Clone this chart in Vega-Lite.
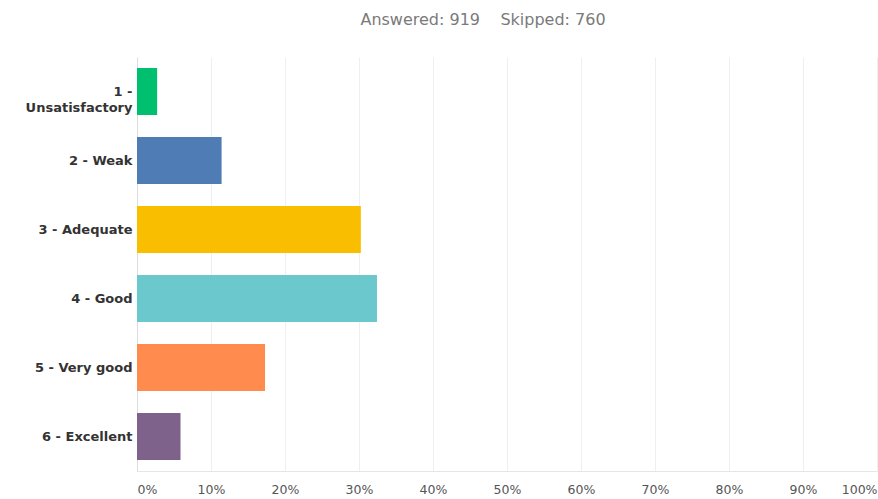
{
  "$schema": "https://vega.github.io/schema/vega-lite/v6.json",
  "autosize": {"type": "none"},
  "width": 740,
  "height": 414,
  "padding": {"left": 137, "top": 57, "right": 1, "bottom": 28},
  "background": "white",
  "title": {
    "text": "Answered: 919\u00a0\u00a0\u00a0\u00a0Skipped: 760",
    "font": "DejaVu Sans",
    "fontSize": 16,
    "fontWeight": "normal",
    "color": "#7a7a7a",
    "anchor": "middle",
    "dx": -24,
    "offset": 29
  },
  "data": {
    "values": [
      {"choice": "1 - Unsatisfactory", "pct": 0.0272, "color": "#00BF6F"},
      {"choice": "2 - Weak", "pct": 0.1143, "color": "#507CB6"},
      {"choice": "3 - Adequate", "pct": 0.3025, "color": "#F9BE00"},
      {"choice": "4 - Good", "pct": 0.3243, "color": "#6BC8CD"},
      {"choice": "5 - Very good", "pct": 0.1730, "color": "#FF8B4F"},
      {"choice": "6 - Excellent", "pct": 0.0588, "color": "#7F628B"}
    ]
  },
  "mark": {"type": "bar"},
  "encoding": {
    "y": {
      "field": "choice",
      "type": "nominal",
      "sort": null,
      "scale": {"paddingInner": 0.32, "paddingOuter": 0.16},
      "axis": {
        "title": null,
        "ticks": false,
        "domain": true,
        "domainColor": "#dddddd",
        "labelFont": "DejaVu Sans",
        "labelFontWeight": "bold",
        "labelFontSize": 13,
        "labelColor": "#333333",
        "labelPadding": 5,
        "labelLimit": 140,
        "labelLineHeight": 16,
        "labelExpr": "datum.label == '1 - Unsatisfactory' ? ['1 -', 'Unsatisfactory'] : datum.label"
      }
    },
    "x": {
      "field": "pct",
      "type": "quantitative",
      "scale": {"domain": [0, 1], "nice": false},
      "axis": {
        "title": null,
        "format": ".0%",
        "values": [0, 0.1, 0.2, 0.3, 0.4, 0.5, 0.6, 0.7, 0.8, 0.9, 1],
        "ticks": false,
        "domain": true,
        "domainColor": "#e6e6e6",
        "grid": true,
        "gridColor": "#efefef",
        "labelFont": "DejaVu Sans",
        "labelFontSize": 12.5,
        "labelColor": "#555555",
        "labelPadding": 12,
        "labelFlush": true
      }
    },
    "color": {"field": "color", "type": "nominal", "scale": null, "legend": null}
  },
  "config": {"view": {"stroke": null}}
}
